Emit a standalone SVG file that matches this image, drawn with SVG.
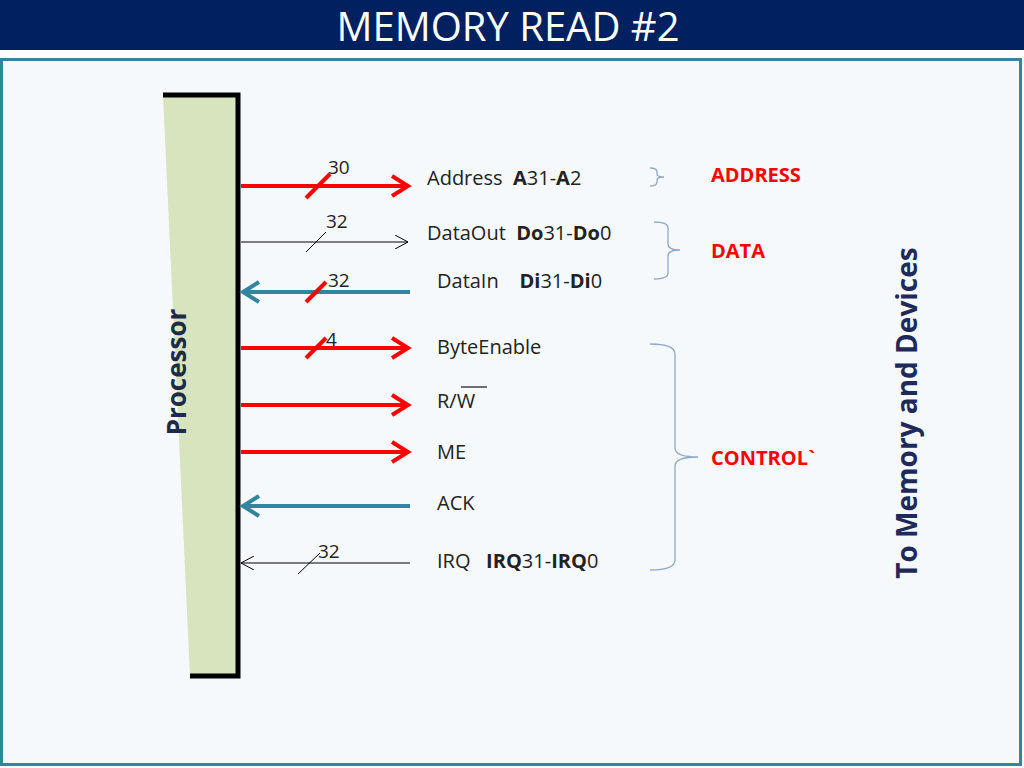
<svg xmlns="http://www.w3.org/2000/svg" width="1024" height="768" viewBox="0 0 1024 768">
<defs>
<style>
text{font-family:"Open Sans","Liberation Sans",sans-serif}
.lbl{font-size:20px;fill:#222}
.num{font-size:19px;fill:#222}
.grp{font-size:20px;fill:#ff0000;font-weight:bold}
.red{stroke:#ff0000;stroke-width:4;fill:none}
.teal{stroke:#31859c;stroke-width:4;fill:none}
.thin{stroke:#000;stroke-width:1;fill:none}
.brace{stroke:#8ea9c8;stroke-width:1.3;fill:none}
</style>
<marker id="hr" markerWidth="24" markerHeight="26" refX="20" refY="13" orient="auto" markerUnits="userSpaceOnUse" viewBox="0 0 24 26"><path d="M4,3 L20,13 L4,23" fill="none" stroke="#ff0000" stroke-width="4"/></marker>
<marker id="ht" markerWidth="24" markerHeight="26" refX="20" refY="13" orient="auto" markerUnits="userSpaceOnUse" viewBox="0 0 24 26"><path d="M4,3 L20,13 L4,23" fill="none" stroke="#31859c" stroke-width="4"/></marker>
<marker id="hb" markerWidth="14" markerHeight="14" refX="13" refY="7" orient="auto" viewBox="0 0 14 14" markerUnits="userSpaceOnUse"><path d="M0,0 L13,7 L0,14" fill="none" stroke="#000" stroke-width="1"/></marker>
</defs>
<rect x="0" y="0" width="1024" height="768" fill="#ffffff"/>
<rect x="0" y="0" width="1024" height="50" fill="#002060"/>
<text x="508" y="41" text-anchor="middle" font-size="40" fill="#ffffff">MEMORY READ #2</text>
<rect x="1.5" y="59.5" width="1019" height="705" fill="#f5f9fc" stroke="#31859c" stroke-width="3"/>
<g id="processor">
<polygon points="163,95 238,95 238,676 190,676" fill="#d7e4bd"/>
<polyline points="163,95 238,95 238,676 190,676" fill="none" stroke="#000" stroke-width="5"/>
<text transform="translate(186,372) rotate(-90)" text-anchor="middle" font-size="26" font-weight="bold" fill="#1f2a44">Processor</text>
</g>
<g id="connectors">
<line x1="241" y1="186" x2="408" y2="186" class="red" marker-end="url(#hr)"/>
<line x1="306" y1="198" x2="330" y2="174" class="red" stroke-width="3"/>
<line x1="241" y1="242" x2="408" y2="242" class="thin" marker-end="url(#hb)"/>
<line x1="306" y1="252" x2="326" y2="232" class="thin"/>
<line x1="410" y1="292" x2="243" y2="292" class="teal" marker-end="url(#ht)"/>
<line x1="306" y1="302" x2="326" y2="282" class="red" stroke-width="3"/>
<line x1="241" y1="348" x2="408" y2="348" class="red" marker-end="url(#hr)"/>
<line x1="306" y1="358" x2="326" y2="338" class="red" stroke-width="3"/>
<line x1="241" y1="405" x2="408" y2="405" class="red" marker-end="url(#hr)"/>
<line x1="241" y1="452" x2="408" y2="452" class="red" marker-end="url(#hr)"/>
<line x1="410" y1="506" x2="243" y2="506" class="teal" marker-end="url(#ht)"/>
<line x1="410" y1="563" x2="241" y2="563" class="thin" marker-end="url(#hb)"/>
<line x1="298" y1="574" x2="320" y2="553" class="thin"/>
</g>
<g id="numbers">
<text x="328" y="174" class="num">30</text>
<text x="326" y="228" class="num">32</text>
<text x="328" y="287" class="num">32</text>
<text x="326" y="346" class="num">4</text>
<text x="318" y="558" class="num">32</text>
</g>
<g id="signals">
<text x="427" y="185" class="lbl">Address&#160; <tspan font-weight="bold">A</tspan>31-<tspan font-weight="bold">A</tspan>2</text>
<text x="427" y="240" class="lbl">DataOut&#160; <tspan font-weight="bold">Do</tspan>31-<tspan font-weight="bold">Do</tspan>0</text>
<text x="437" y="288" class="lbl">DataIn&#160;&#160;&#160; <tspan font-weight="bold">Di</tspan>31-<tspan font-weight="bold">Di</tspan>0</text>
<text x="437" y="354" class="lbl">ByteEnable</text>
<text x="437" y="408" class="lbl">R/W</text>
<text x="437" y="459" class="lbl">ME</text>
<text x="437" y="510" class="lbl">ACK</text>
<text x="437" y="568" class="lbl">IRQ&#160;&#160; <tspan font-weight="bold">IRQ</tspan>31-<tspan font-weight="bold">IRQ</tspan>0</text>
</g>
<line x1="461" y1="387" x2="487" y2="387" stroke="#222" stroke-width="1.3"/>
<g id="braces">
<path class="brace" d="M650,168 Q657,168 657,172 L657,174 Q657,177 664,177 Q657,177 657,180 L657,182 Q657,186 650,186"/>
<path class="brace" d="M654,222 Q668,222 668,228 L668,244 Q668,250 680,250 Q668,250 668,256 L668,273 Q668,279 654,279"/>
<path class="brace" d="M650,344 Q675,344 675,354 L675,448 Q675,457 698,457 Q675,457 675,466 L675,560 Q675,570 650,570"/>
</g>
<g id="groups">
<text x="711" y="182" class="grp">ADDRESS</text>
<text x="711" y="258" class="grp">DATA</text>
<text x="711" y="465" class="grp">CONTROL`</text>
</g>
<text transform="translate(917,413) rotate(-90)" text-anchor="middle" font-size="28" font-weight="bold" fill="#1f2a5a">To Memory and Devices</text>
</svg>
